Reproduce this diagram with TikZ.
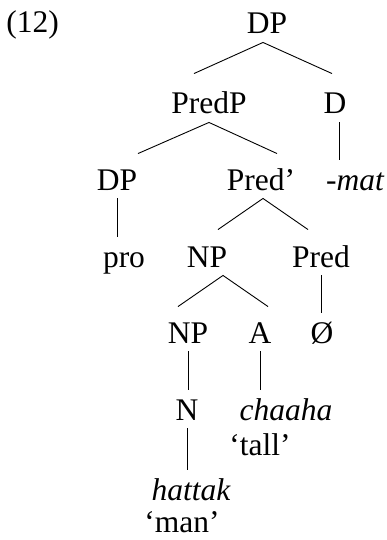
\documentclass[tikz,border=0pt]{standalone}
\usepackage{fontspec}
\setmainfont{Liberation Serif}
\usepackage{tikz}

\begin{document}
\begin{tikzpicture}[x=1pt,y=1pt,line width=0.9pt,
    font=\fontsize{31.5}{36}\selectfont,
    cat/.style={anchor=base,inner sep=0pt,text height=30pt,text depth=8pt},
    gloss/.style={anchor=base,inner sep=0pt,text depth=0pt}]

\useasboundingbox (0,0) rectangle (386,-540);

\node[anchor=base west,inner sep=0pt] (ex) at (6,-33) {(12)};

\node[cat] (dp)     at (267,-34)  {DP};
\node[cat] (predp)  at (209,-114) {PredP};
\node[cat] (d)      at (335,-114) {D};
\node[cat] (dpsubj) at (117,-190) {DP};
\node[cat] (predbar) at (261,-190) {Pred’};
\node[cat] (mat)    at (355,-190) {\itshape -mat};
\node[cat] (pro)    at (124,-267) {pro};
\node[cat] (np)     at (207,-267) {NP};
\node[cat] (pred)   at (321,-267) {Pred};
\node[cat] (nplow)  at (188,-343) {NP};
\node[cat] (a)      at (260,-343) {A};
\node[cat] (null)   at (322,-343) {Ø};
\node[cat] (n)      at (187,-420) {N};
\node[cat] (chaaha) at (286,-420) {\itshape chaaha};
\node[gloss] (tall) at (260,-455) {‘tall’};
\node[cat] (hattak) at (191,-500) {\itshape hattak};
\node[gloss] (man)  at (182,-532) {‘man’};

% branching nodes
\draw ([shift={(-15pt,10pt)}]predp.north) -- ([xshift=-4pt]dp.south)
      -- ([shift={(-3pt,10pt)}]d.north);
\draw ([shift={(21pt,6pt)}]dpsubj.north) -- (predp.south)
      -- ([shift={(16pt,6pt)}]predbar.north);
\draw ([shift={(11pt,7pt)}]np.north) -- ([xshift=2pt]predbar.south)
      -- ([shift={(-13pt,7pt)}]pred.north);
\draw ([shift={(-10pt,6pt)}]nplow.north) -- ([xshift=16pt]np.south)
      -- ([shift={(8pt,6pt)}]a.north);

% unary nodes
\path ([xshift=4pt]d.south) edge ([xshift=4pt]d.south |- mat.north);
\path (dpsubj.south) edge (dpsubj.south |- pro.north);
\path (pred.south) edge (pred.south |- null.north);
\path (nplow.south) edge (nplow.south |- n.north);
\path (a.south) edge (a.south |- chaaha.north);
\path (n.south) edge (n.south |- hattak.north);

\end{tikzpicture}
\end{document}
